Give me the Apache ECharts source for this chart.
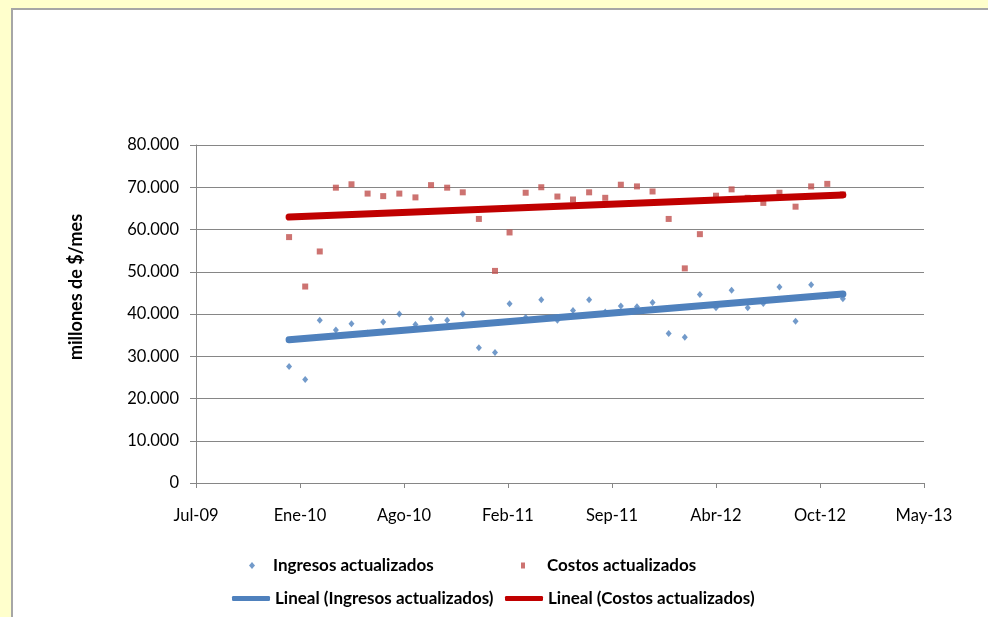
<!DOCTYPE html>
<html>
<head>
<meta charset="utf-8">
<title>Ingresos y costos actualizados</title>
<script src="https://cdn.jsdelivr.net/npm/echarts@6/dist/echarts.min.js"></script>
<style>
  html, body { margin: 0; padding: 0; background: #FFFFCC; }
  #chart { width: 988px; height: 617px; }
</style>
</head>
<body>
<div id="chart"></div>
<script>
// Monthly observations, January 2010 to December 2012
const months = [
  '2010-01','2010-02','2010-03','2010-04','2010-05','2010-06',
  '2010-07','2010-08','2010-09','2010-10','2010-11','2010-12',
  '2011-01','2011-02','2011-03','2011-04','2011-05','2011-06',
  '2011-07','2011-08','2011-09','2011-10','2011-11','2011-12',
  '2012-01','2012-02','2012-03','2012-04','2012-05','2012-06',
  '2012-07','2012-08','2012-09','2012-10','2012-11','2012-12'
];

// millones de $/mes
const ingresos = [
  27600, 24500, 38500, 36200, 37700, 35500,
  38100, 40000, 37500, 38800, 38500, 40000,
  32000, 30900, 42400, 39200, 43400, 38500,
  40800, 43400, 40500, 41900, 41700, 42700,
  35400, 34500, 44600, 41500, 45600, 41500,
  42500, 46400, 38300, 46900, 44300, 43600
];
const costos = [
  58200, 46500, 54800, 69900, 70700, 68500,
  67900, 68500, 67600, 70500, 69900, 68800,
  62500, 50200, 59300, 68700, 70000, 67800,
  67100, 68800, 67500, 70600, 70200, 69000,
  62500, 50800, 58900, 68000, 69500, 67500,
  66300, 68700, 65400, 70200, 70800, 68300
];

// Date axis: day serials (1899-12-30 origin), one tick every 200 days
const xTickLabels = ['Jul-09','Ene-10','Ago-10','Feb-11','Sep-11','Abr-12','Oct-12','May-13'];
const xStart = 40000;
const xStep = 200;
const yTicks = [0, 10000, 20000, 30000, 40000, 50000, 60000, 70000, 80000];

const DAY = 86400000;
const EPOCH = Date.UTC(1899, 11, 30);
function serial(ym) {
  const [y, m] = ym.split('-').map(Number);
  return Math.round((Date.UTC(y, m - 1, 1) - EPOCH) / DAY);
}
const xs = months.map(serial);

function pairs(values) {
  return values.map((v, i) => [xs[i], v]);
}

// Least-squares trend over the monthly points
function linearTrend(values) {
  const n = values.length;
  let sx = 0, sy = 0, sxx = 0, sxy = 0;
  for (let i = 0; i < n; i++) {
    sx += xs[i]; sy += values[i];
    sxx += xs[i] * xs[i]; sxy += xs[i] * values[i];
  }
  const slope = (n * sxy - sx * sy) / (n * sxx - sx * sx);
  const icpt = (sy - slope * sx) / n;
  const x0 = xs[0], x1 = xs[n - 1];
  return [[x0, icpt + slope * x0], [x1, icpt + slope * x1]];
}

function thousands(v) {
  return String(Math.round(v)).replace(/\B(?=(\d{3})+(?!\d))/g, '.');
}

const FONT = 'Lato';
const GRID_GRAY = '#868686';
const BLUE = '#4F81BD';
const RED_MARK = '#C0504D';
const RED_LINE = '#C00000';

const legendText = { fontFamily: FONT, fontWeight: 'bold', fontSize: 17, color: '#000' };

const chart = echarts.init(document.getElementById('chart'), null, { renderer: 'canvas' });
chart.setOption({
  backgroundColor: '#FFFFCC',
  animation: false,
  graphic: [
    {
      type: 'rect', z: -10, silent: true,
      shape: { x: 12, y: 9, width: 1000, height: 640 },
      style: { fill: '#FFFFFF', stroke: '#A6A6A6', lineWidth: 2 }
    },
    {
      type: 'text', silent: true,
      x: 76, y: 287, rotation: Math.PI / 2,
      style: {
        text: 'millones de $/mes',
        fontFamily: FONT, fontWeight: 'bold', fontSize: 18, fill: '#000',
        align: 'center', verticalAlign: 'middle'
      }
    }
  ],
  grid: { left: 196, right: 64, top: 145, bottom: 134, containLabel: false },
  xAxis: {
    type: 'value',
    min: xStart,
    max: xStart + xStep * (xTickLabels.length - 1),
    interval: xStep,
    axisLine: { show: true, lineStyle: { color: GRID_GRAY, width: 1 } },
    axisTick: { show: true, length: 5, lineStyle: { color: GRID_GRAY } },
    splitLine: { show: false },
    axisLabel: {
      margin: 24,
      fontFamily: FONT, fontSize: 16.5, color: '#000',
      formatter: v => xTickLabels[Math.round((v - xStart) / xStep)] || ''
    }
  },
  yAxis: {
    type: 'value',
    min: yTicks[0],
    max: yTicks[yTicks.length - 1],
    interval: yTicks[1] - yTicks[0],
    axisLine: { show: true, lineStyle: { color: GRID_GRAY, width: 1 } },
    axisTick: { show: true, length: 6, lineStyle: { color: GRID_GRAY } },
    splitLine: { show: true, lineStyle: { color: GRID_GRAY, width: 1 } },
    axisLabel: {
      margin: 17,
      fontFamily: FONT, fontSize: 16.5, color: '#000',
      formatter: v => thousands(v)
    }
  },
  legend: [
    {
      left: 249, top: 557, padding: 0, itemWidth: 6, itemHeight: 7,
      data: [{ name: 'Ingresos actualizados', icon: 'diamond' }],
      textStyle: Object.assign({ padding: [0, 0, 0, 13] }, legendText),
      selectedMode: false
    },
    {
      left: 521, top: 557, padding: 0, itemWidth: 4, itemHeight: 6,
      data: [{ name: 'Costos actualizados', icon: 'rect' }],
      textStyle: Object.assign({ padding: [0, 0, 0, 17] }, legendText),
      selectedMode: false
    },
    {
      left: 232, top: 590, padding: 0, itemWidth: 38, itemHeight: 5,
      data: [{ name: 'Lineal (Ingresos actualizados)', icon: 'roundRect' }],
      textStyle: legendText,
      selectedMode: false
    },
    {
      left: 505, top: 590, padding: 0, itemWidth: 38, itemHeight: 5,
      data: [{ name: 'Lineal (Costos actualizados)', icon: 'roundRect' }],
      textStyle: legendText,
      selectedMode: false
    }
  ],
  series: [
    {
      name: 'Ingresos actualizados',
      type: 'scatter',
      symbol: 'diamond',
      symbolSize: [6, 7],
      itemStyle: { color: BLUE },
      data: pairs(ingresos),
      z: 2
    },
    {
      name: 'Costos actualizados',
      type: 'scatter',
      symbol: 'rect',
      symbolSize: 6,
      itemStyle: { color: RED_MARK },
      data: pairs(costos),
      z: 2
    },
    {
      name: 'Lineal (Ingresos actualizados)',
      type: 'line',
      symbol: 'none',
      itemStyle: { color: BLUE },
      lineStyle: { color: BLUE, width: 7, cap: 'round' },
      data: linearTrend(ingresos),
      z: 3
    },
    {
      name: 'Lineal (Costos actualizados)',
      type: 'line',
      symbol: 'none',
      itemStyle: { color: RED_LINE },
      lineStyle: { color: RED_LINE, width: 7, cap: 'round' },
      data: linearTrend(costos),
      z: 3
    }
  ]
});
</script>
</body>
</html>
